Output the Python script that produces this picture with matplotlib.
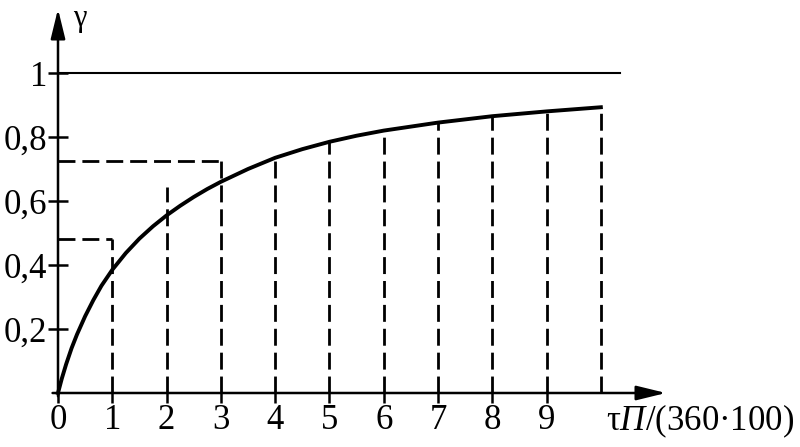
import matplotlib
matplotlib.use("Agg")
import matplotlib.pyplot as plt

plt.rcParams['font.family'] = ['Liberation Serif', 'DejaVu Serif']
plt.rcParams['mathtext.fontset'] = 'custom'
plt.rcParams['mathtext.rm'] = 'Liberation Serif'
plt.rcParams['mathtext.it'] = 'Liberation Serif:italic'

# curve gamma(t)
t_curve = [0, 0.07, 0.15, 0.25, 0.35, 0.5, 0.65, 0.8, 1, 1.25, 1.5, 1.75, 2,
           2.25, 2.5, 2.75, 3, 3.5, 4, 4.5, 5, 5.5, 6, 7, 8, 9, 10]
g_curve = [0, 0.045, 0.09, 0.14, 0.183, 0.24, 0.29, 0.335, 0.385, 0.4375,
           0.4825, 0.521, 0.555, 0.585, 0.6125, 0.6375, 0.66, 0.70, 0.735,
           0.762, 0.785, 0.804, 0.82, 0.845, 0.865, 0.88, 0.893]

# dashed verticals: position and top height
drop_x = [1, 2, 3, 4, 5, 6, 7, 8, 9, 10]
drop_top = [0.48, 0.645, 0.725, 0.735, 0.785, 0.82, 0.845, 0.865, 0.88, 0.893]

# dashed horizontals to the y axis (level, right end)
step_y = [0.48, 0.725]
step_x = [1, 3]

limit_level = 1.0
limit_end = 10.35

x_ticks = [0, 1, 2, 3, 4, 5, 6, 7, 8, 9]
y_ticks = [0.2, 0.4, 0.6, 0.8, 1.0]
y_labels = ['0,2', '0,4', '0,6', '0,8', '1']

fig = plt.figure(figsize=(8, 4.47), dpi=100)
ax = fig.add_axes([58 / 800, 54 / 447, 608 / 800, 384 / 447])
ax.set_xlim(0, 11.2)
ax.set_ylim(0, 1.2)
for s in ax.spines.values():
    s.set_visible(False)

dash = dict(color='black', lw=2, dashes=(6.1, 2.5))
for x, top in zip(drop_x, drop_top):
    ax.plot([x, x], [0, top], **dash)
for y, x in zip(step_y, step_x):
    ax.plot([0, x], [y, y], **dash)

ax.plot([0, limit_end], [limit_level, limit_level], color='black', lw=1.5)
ax.plot(t_curve, g_curve, color='black', lw=2.8, clip_on=False,
        solid_joinstyle='round')

arrow = dict(arrowstyle='-|>,head_length=0.9,head_width=0.22', lw=1.8,
             color='black', mutation_scale=20, shrinkA=0, shrinkB=0)
ax.annotate('', xy=(11.2, 0), xytext=(-0.1, 0), arrowprops=arrow, annotation_clip=False)
ax.annotate('', xy=(0, 1.2), xytext=(0, -0.01), arrowprops=arrow, annotation_clip=False)

ax.set_xticks(x_ticks)
ax.set_xticklabels([str(v) for v in x_ticks])
ax.set_yticks(y_ticks)
ax.set_yticklabels(y_labels)
ax.tick_params(axis='x', direction='out', length=7, width=1.8, labelsize=25, pad=1)
ax.tick_params(axis='y', direction='inout', length=14, width=1.8, labelsize=25, pad=1)

ax.text(0.4, 1.17, 'γ', fontsize=22, ha='center', va='center')
ax.text(10.1, -0.09, r'$\mathrm{τ}\mathit{П}$/(360·100)', fontsize=25,
        ha='left', va='center')

fig.savefig('out.png', dpi=100)
